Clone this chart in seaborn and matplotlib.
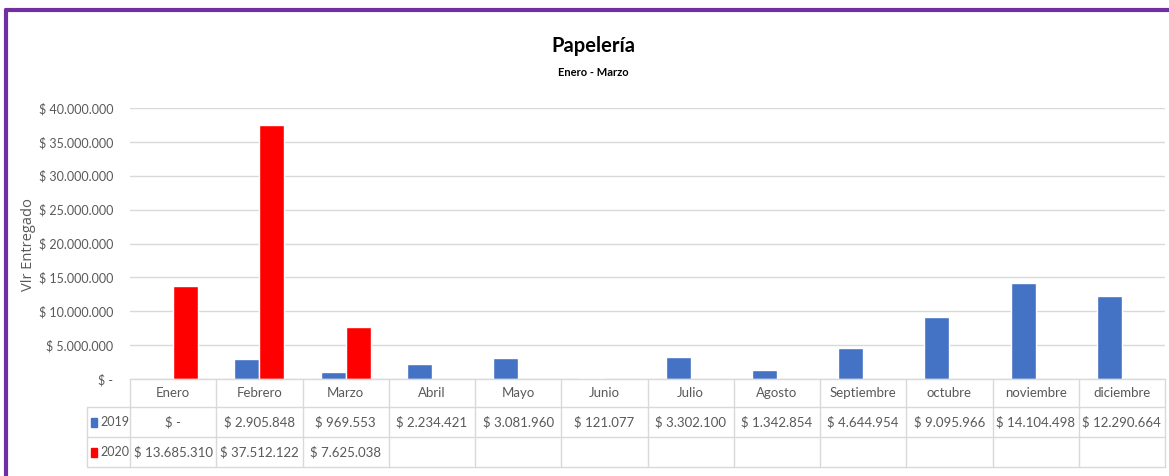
import numpy as np
import pandas as pd
import matplotlib
matplotlib.use("Agg")
import matplotlib.pyplot as plt
import matplotlib.transforms as mtransforms
from matplotlib.lines import Line2D
from matplotlib.patches import Rectangle
import seaborn as sns

# =====================
# DATA
# =====================

months = ["Enero", "Febrero", "Marzo", "Abril", "Mayo", "Junio", "Julio",
          "Agosto", "Septiembre", "octubre", "noviembre", "diciembre"]

values_2019 = [0, 2905848, 969553, 2234421, 3081960, 121077, 3302100,
               1342854, 4644954, 9095966, 14104498, 12290664]

values_2020 = [13685310, 37512122, 7625038, np.nan, np.nan, np.nan, np.nan,
               np.nan, np.nan, np.nan, np.nan, np.nan]

years = ["2019", "2020"]
colors = {"2019": "#4472C4", "2020": "#FF0000"}

df = pd.DataFrame({
    "Mes": months * 2,
    "Año": ["2019"] * 12 + ["2020"] * 12,
    "Valor": values_2019 + values_2020,
})


def money(v):
    if pd.isna(v):
        return ""
    if v == 0:
        return "$ -"
    return "$ " + f"{int(v):,}".replace(",", ".")


# =====================
# STYLE
# =====================

sns.set_style("white")
plt.rcParams["font.family"] = ["Lato", "DejaVu Sans"]

grey_txt = "#595959"
grid_col = "#D9D9D9"
fs = 9.5

fig = plt.figure(figsize=(11.69, 4.76), dpi=100)
W, H = 1169, 476

ax = fig.add_axes([130 / W, 1 - 379 / H, (1165 - 130) / W, (379 - 108) / H])

sns.barplot(
    data=df,
    x="Mes",
    y="Valor",
    hue="Año",
    order=months,
    hue_order=years,
    palette=colors,
    width=0.58,
    gap=0,
    saturation=1,
    legend=False,
    ax=ax,
)

ax.set_xlim(-0.5, 11.5)
ax.set_ylim(0, 40000000)
ax.set_yticks(np.arange(0, 40000001, 5000000))
ax.set_yticklabels([money(t) for t in ax.get_yticks()], fontsize=9, color=grey_txt)
ax.tick_params(axis="y", length=0, pad=12)
ax.set_xticks([])
ax.set_xlabel("")
ax.set_ylabel("")
ax.grid(axis="y", color=grid_col, linewidth=1)
ax.set_axisbelow(True)
for s in ax.spines.values():
    s.set_visible(False)

# =====================
# DATA TABLE
# =====================

trans = mtransforms.blended_transform_factory(ax.transData, fig.transFigure)
rows_px = [379, 407, 437, 467]
rows = [1 - r / H for r in rows_px]
x_left = -1.0

# horizontals
ax.add_line(Line2D([-0.5, 11.5], [rows[0]] * 2, transform=trans, color=grid_col, lw=1, clip_on=False))
for r in rows[1:]:
    ax.add_line(Line2D([x_left, 11.5], [r] * 2, transform=trans, color=grid_col, lw=1, clip_on=False))
# verticals
for i in range(13):
    ax.add_line(Line2D([i - 0.5] * 2, [rows[0], rows[3]], transform=trans, color=grid_col, lw=1, clip_on=False))
ax.add_line(Line2D([x_left] * 2, [rows[1], rows[3]], transform=trans, color=grid_col, lw=1, clip_on=False))

for i, m in enumerate(months):
    ax.text(i, (rows[0] + rows[1]) / 2, m, transform=trans, ha="center", va="center",
            fontsize=fs, color=grey_txt)
    ax.text(i, (rows[1] + rows[2]) / 2, money(values_2019[i]), transform=trans,
            ha="center", va="center", fontsize=fs, color=grey_txt)
    ax.text(i, (rows[2] + rows[3]) / 2, money(values_2020[i]), transform=trans,
            ha="center", va="center", fontsize=fs, color=grey_txt)

for k, yr in enumerate(years):
    yc = (rows[k + 1] + rows[k + 2]) / 2
    fig.add_artist(Rectangle((91 / W, yc - 4.5 / H), 6 / W, 9 / H,
                             transform=fig.transFigure, color=colors[yr]))
    fig.text(100 / W, yc, yr, ha="left", va="center", fontsize=9, color=grey_txt)

# =====================
# TITLES / BORDER
# =====================

fig.text(593 / W, 1 - 46 / H, "Papelería", ha="center", va="center",
         fontsize=14.5, fontweight="bold", color="black")
fig.text(593 / W, 1 - 73 / H, "Enero - Marzo", ha="center", va="center",
         fontsize=8, fontweight="bold", color="black")
fig.text(29 / W, 1 - 245 / H, "Vlr Entregado", rotation=90, ha="center", va="center",
         fontsize=10.5, color=grey_txt, family=["Open Sans", "DejaVu Sans"])

fig.add_artist(Line2D([6 / W, 1], [1 - 10 / H] * 2, transform=fig.transFigure,
                      color="#7030A0", lw=3))
fig.add_artist(Line2D([6 / W] * 2, [0, 1 - 10 / H], transform=fig.transFigure,
                      color="#7030A0", lw=3))

plt.savefig("out.png", dpi=100)
